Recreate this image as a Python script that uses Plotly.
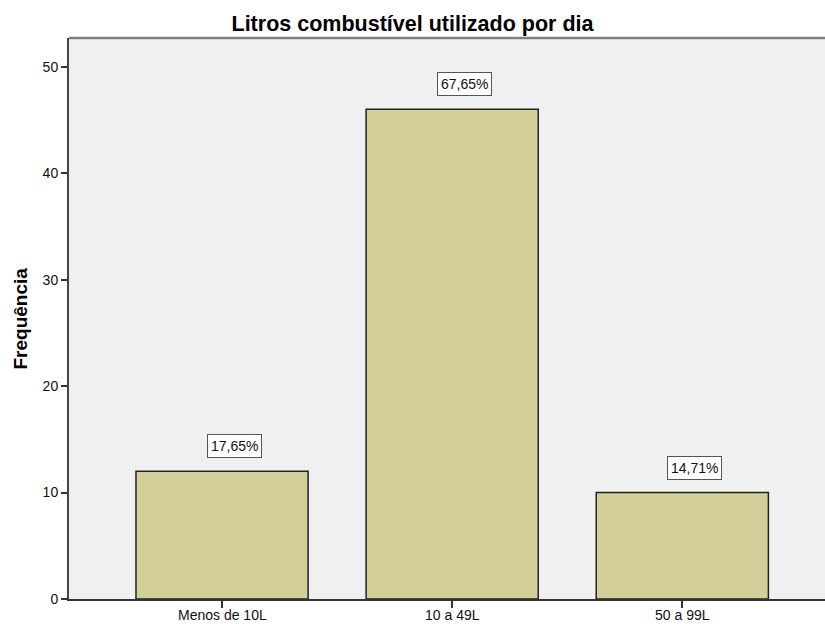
import plotly.graph_objects as go

categories = ["Menos de 10L", "10 a 49L", "50 a 99L"]
frequencies = [12, 46, 10]
y_ticks = [0, 10, 20, 30, 40, 50]

title_text = "Litros combustível utilizado por dia"
y_title = "Frequência"

total = sum(frequencies)
pct_labels = [f"{v / total * 100:.2f}%".replace(".", ",") for v in frequencies]

FONT = "Liberation Sans, Arial, sans-serif"

fig = go.Figure()
fig.add_trace(go.Bar(
    x=list(range(len(categories))),
    y=frequencies,
    width=0.748,
    marker=dict(color="#d3cf98", line=dict(color="#222222", width=1.5)),
    hoverinfo="skip",
))

for i, (v, lab) in enumerate(zip(frequencies, pct_labels)):
    fig.add_annotation(
        x=i, y=v, xref="x", yref="y",
        text=lab, showarrow=False,
        yanchor="bottom", yshift=13, xshift=12,
        font=dict(family=FONT, size=14, color="#111111"),
        bgcolor="white", bordercolor="#555555", borderwidth=1, borderpad=3,
    )

# category labels (placed as annotations so they fit in the narrow bottom band)
for i, cat in enumerate(categories):
    fig.add_annotation(
        x=i, y=0, xref="x", yref="paper",
        text=cat, showarrow=False,
        yanchor="top", yshift=-6,
        font=dict(family=FONT, size=14, color="#111111"),
    )

# y axis title
fig.add_annotation(
    x=0, y=0.5, xref="paper", yref="paper",
    text=f"<b>{y_title}</b>", showarrow=False, textangle=-90,
    xanchor="center", yanchor="middle", xshift=-49,
    font=dict(family=FONT, size=19, color="#000000"),
)

# top frame line
fig.add_shape(type="line", xref="paper", yref="paper", x0=0, x1=1, y0=1, y1=1,
              line=dict(color="#808080", width=2.5))

fig.update_layout(
    width=825, height=624,
    margin=dict(l=69, r=0, t=38, b=25, autoexpand=False),
    paper_bgcolor="white",
    plot_bgcolor="#f0f0f0",
    showlegend=False,
    title=dict(text=f"<b>{title_text}</b>", x=0.5, xref="container", xanchor="center",
               y=1 - 23 / 624, yanchor="middle",
               font=dict(family=FONT, size=21.5, color="#000000")),
    font=dict(family=FONT, color="#111111"),
)

fig.update_xaxes(
    range=[-0.665, 2.62],
    tickmode="array", tickvals=list(range(len(categories))), ticktext=["", "", ""],
    ticks="outside", ticklen=7, tickwidth=1.5, tickcolor="#333333",
    showline=True, linecolor="#333333", linewidth=2,
    showgrid=False, zeroline=False, automargin=False,
)
fig.update_yaxes(
    range=[0, 52.7],
    tickmode="array", tickvals=y_ticks,
    ticks="outside", ticklen=6, tickwidth=1.5, tickcolor="#333333",
    showline=True, linecolor="#444444", linewidth=2,
    showgrid=False, zeroline=False, automargin=False,
    tickfont=dict(family=FONT, size=14, color="#111111"),
)

fig.write_html("out.html", config={"displayModeBar": False},
               post_script="document.body.style.margin='0px';")
